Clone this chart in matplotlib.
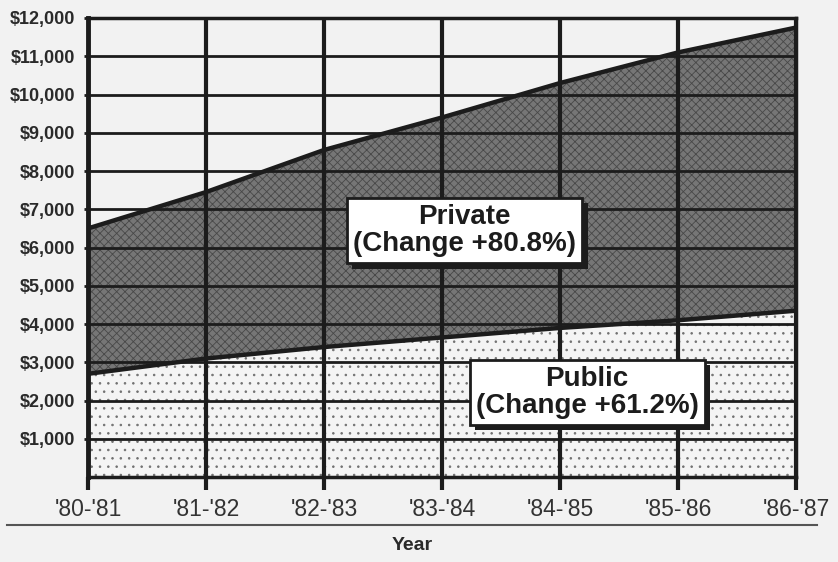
import matplotlib
matplotlib.use("Agg")
import matplotlib.pyplot as plt
import matplotlib.patheffects as pe
from matplotlib.ticker import FuncFormatter

years = ["'80-'81", "'81-'82", "'82-'83", "'83-'84", "'84-'85", "'85-'86", "'86-'87"]
private = [6500, 7450, 8550, 9400, 10300, 11100, 11750]
public = [2700, 3100, 3400, 3650, 3900, 4100, 4350]
y_ticks = [1000, 2000, 3000, 4000, 5000, 6000, 7000, 8000, 9000, 10000, 11000, 12000]

plt.rcParams["font.family"] = ["Liberation Sans", "DejaVu Sans"]
plt.rcParams["hatch.linewidth"] = 0.6

BG = "#f2f2f2"
INK = "#1c1c1c"

fig = plt.figure(figsize=(8.38, 5.62), dpi=100, facecolor=BG)
ax = fig.add_axes([0.105, 0.151, 0.845, 0.817], facecolor=BG)

x = list(range(len(years)))

# public (dotted, light) and private (dark halftone) bands
ax.fill_between(x, 0, public, facecolor="#f4f4f4", edgecolor="#707070",
                hatch="..", linewidth=0, zorder=1)
ax.fill_between(x, public, private, facecolor="#767676", edgecolor="#484848",
                hatch="xxxx", linewidth=0, zorder=1)
ax.plot(x, private, color=INK, lw=3.2, zorder=2.6, solid_capstyle="butt")
ax.plot(x, public, color=INK, lw=3.2, zorder=2.6, solid_capstyle="butt")

ax.set_xlim(0, len(years) - 1)
ax.set_ylim(0, 12000)
ax.set_xticks(x)
ax.set_xticklabels(years, fontsize=16.5, color="#333333")
ax.set_yticks(y_ticks)
ax.yaxis.set_major_formatter(FuncFormatter(lambda v, p: "${:,.0f}".format(v)))
for lab in ax.get_yticklabels():
    lab.set_fontweight("bold")
ax.tick_params(axis="y", labelsize=13, length=3, width=2, color=INK,
               pad=6, labelcolor="#2a2a2a")
ax.tick_params(axis="x", length=9, width=3, color=INK, pad=6)

ax.set_axisbelow(False)
ax.grid(axis="x", color=INK, lw=3)
ax.grid(axis="y", color=INK, lw=2)
for side in ["left", "right", "top", "bottom"]:
    ax.spines[side].set_color(INK)
    ax.spines[side].set_linewidth(2.5)
ax.spines["left"].set_linewidth(3.5)


def label_box(xv, yv, text):
    t = ax.text(xv, yv, text, ha="center", va="center", fontsize=20,
                fontweight="bold", color=INK, linespacing=1.05, zorder=5,
                bbox=dict(boxstyle="square,pad=0.22", facecolor="white",
                          edgecolor=INK, lw=2))
    t.get_bbox_patch().set_path_effects([
        pe.SimplePatchShadow(offset=(4, -4), shadow_rgbFace=INK, alpha=1.0),
        pe.Normal(),
    ])


label_box(3.19, 6450, "Private\n(Change +80.8%)")
label_box(4.23, 2220, "Public\n(Change +61.2%)")

# rule and axis title under the chart
fig.add_artist(plt.Line2D([0.008, 0.975], [0.066, 0.066], color="#555555", lw=1.5))
fig.text(0.492, 0.030, "Year", ha="center", va="center", fontsize=14,
         fontweight="bold", color="#2a2a2a")

fig.savefig("out.png", dpi=100, facecolor=BG)
